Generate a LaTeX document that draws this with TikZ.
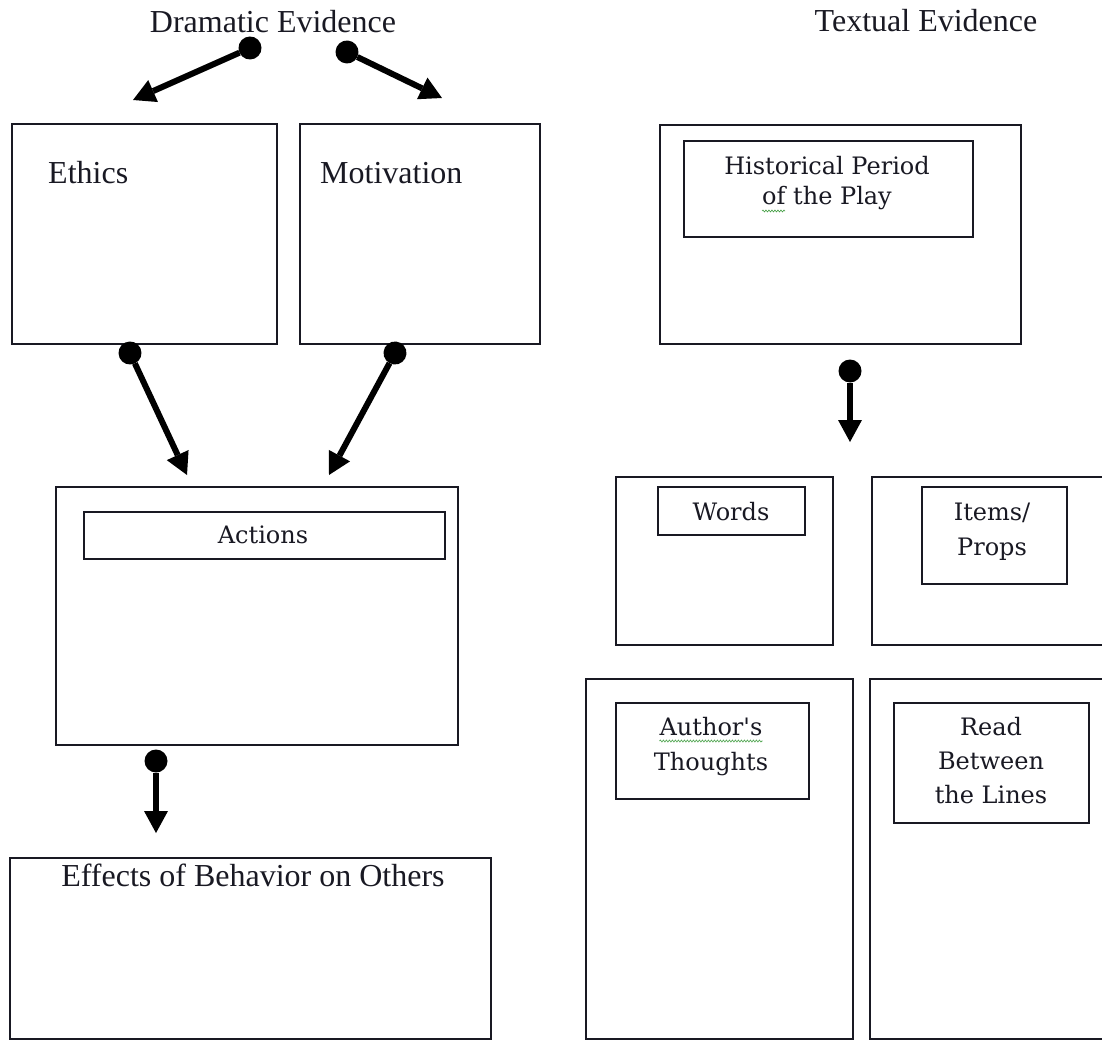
\documentclass[tikz,border=0pt]{standalone}
\usepackage{fontspec}
\setmainfont{Liberation Serif}
\newfontfamily\slabfont{DejaVu Serif}
\usetikzlibrary{arrows.meta,decorations.pathmorphing}
\definecolor{ink}{RGB}{25,25,35}
\definecolor{squig}{RGB}{70,160,70}
\begin{document}
\begin{tikzpicture}[x=1pt,y=-1pt,
  box/.style={draw=ink,line width=1.8pt,rectangle,anchor=north west,inner sep=0pt,minimum width=#1},
  tlabel/.style={font=\fontsize{32}{38}\selectfont,text=ink,inner sep=0pt},
  slabel/.style={font=\slabfont\fontsize{24}{30}\selectfont,text=ink,inner sep=0pt,anchor=base},
  conn/.style={line width=6pt,draw=black,
    {Circle[length=23pt,line width=0pt]}-{Triangle[length=22pt,width=24pt,line width=0pt]},
    shorten <=-11.5pt},
  wavy/.style={draw=squig,line width=0.6pt,decorate,decoration={snake,segment length=3pt,amplitude=1pt}}]
\useasboundingbox (0,0) rectangle (1102,1040);
\fill[white] (0,0) rectangle (1102,1040);

% titles
\node[tlabel,anchor=base] (drama) at (273,33) {Dramatic Evidence};
\node[tlabel,anchor=base] (textual) at (926,32) {Textual Evidence};

% left column boxes
\node[box=265pt,minimum height=220pt] (ethics) at (11,123) {};
\node[tlabel,anchor=base west] (ethicst) at (48,184) {Ethics};
\node[box=240pt,minimum height=220pt] (motiv) at (299,123) {};
\node[tlabel,anchor=base west] (motivt) at (320,184) {Motivation};

\node[box=402pt,minimum height=258pt] (actions) at (55,486) {};
\node[box=361pt,minimum height=47pt] (actionsin) at (83,511) {};
\node[slabel] (actionst) at (263,543) {Actions};

\node[box=481pt,minimum height=181pt] (effects) at (9,857) {};
\node[tlabel,anchor=base] (effectst) at (253,886) {Effects of Behavior on Others};

% right column boxes
\node[box=361pt,minimum height=219pt] (hist) at (659,124) {};
\node[box=289pt,minimum height=96pt] (histin) at (683,140) {};
\node[slabel] (hist1) at (827,175) {Historical Period};
\node[slabel] (hist2) at (827,205) {of the Play};
\draw[wavy] ([shift={(0,6)}]hist2.base west) -- ++(23,0);

\node[box=217pt,minimum height=168pt] (words) at (615,476) {};
\node[box=147pt,minimum height=48pt] (wordsin) at (657,486) {};
\node[slabel] (wordst) at (731,520) {Words};

\node[box=240pt,minimum height=168pt] (items) at (871,476) {};
\node[box=145pt,minimum height=97pt] (itemsin) at (921,486) {};
\node[slabel] (items1) at (992,520) {Items/};
\node[slabel] (items2) at (992,555) {Props};

\node[box=267pt,minimum height=360pt] (author) at (585,678) {};
\node[box=193pt,minimum height=96pt] (authorin) at (615,702) {};
\node[slabel] (auth1) at (711,735) {Author's};
\node[slabel] (auth2) at (711,770) {Thoughts};
\draw[wavy] ([shift={(0,6)}]auth1.base west) -- ([shift={(0,6)}]auth1.base east);

\node[box=242pt,minimum height=360pt] (read) at (869,678) {};
\node[box=195pt,minimum height=120pt] (readin) at (893,702) {};
\node[slabel] (read1) at (991,735) {Read};
\node[slabel] (read2) at (991,769) {Between};
\node[slabel] (read3) at (991,803) {the Lines};

% connector end points
\coordinate (d1) at (250,48);  \coordinate (t1) at (133,100);
\coordinate (d2) at (347,52);  \coordinate (t2) at (442,98);
\coordinate (d3) at (130,353); \coordinate (t3) at (187,475);
\coordinate (d4) at (395,353); \coordinate (t4) at (329,475);
\coordinate (d5) at (156,761); \coordinate (t5) at (156,833);
\coordinate (d6) at (850,371); \coordinate (t6) at (850,442);

\draw[conn] (d1) -- (t1);
\draw[conn] (d2) -- (t2);
\draw[conn] (d3) -- (t3);
\draw[conn] (d4) -- (t4);
\draw[conn] (d5) -- (t5);
\draw[conn] (d6) -- (t6);
\end{tikzpicture}
\end{document}
